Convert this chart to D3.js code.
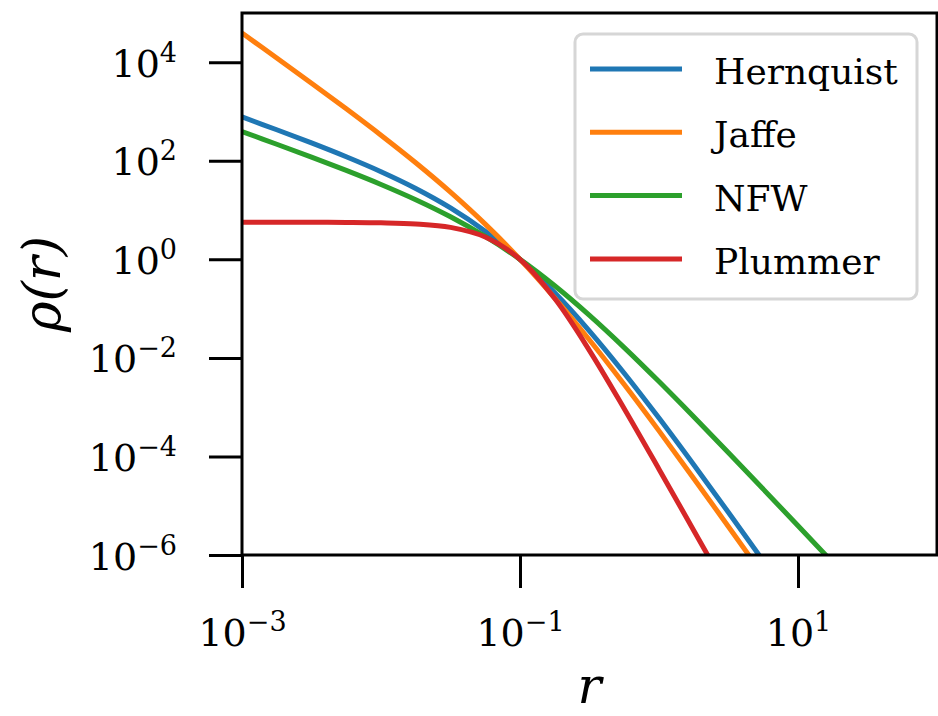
<!DOCTYPE html>
<html>
<head>
<meta charset="utf-8">
<script src="https://cdn.jsdelivr.net/npm/d3@7"></script>
<style>
  body { margin: 0; background: #fff; }
  svg { display: block; }
  svg text { font-family: "DejaVu Serif", "Liberation Serif", "Noto Serif", serif !important; }
</style>
</head>
<body>
<div id="chart"></div>
<script>
// radius samples (log spaced) and densities
const rValues = [1e-3, 1.778e-3, 3.162e-3, 5.623e-3, 1e-2, 1.778e-2, 3.162e-2, 5.623e-2,
  1e-1, 1.778e-1, 3.162e-1, 5.623e-1, 1, 1.778, 3.162, 5.623, 10, 17.78, 31.62];
const hernquist = [776.6, 426.7, 230.5, 120.7, 60.1, 27.5, 11.09, 3.73,
  1, 0.2098, 0.03509, 4.894e-3, 6.01e-4, 6.785e-5, 7.288e-6, 7.59e-7, 7.77e-8, 7.87e-9, 7.92e-10];
const jaffe = [3.922e4, 1.221e4, 3758, 1134, 330.6, 91.18, 23.09, 5.183,
  1, 0.1638, 0.02309, 2.884e-3, 3.306e-4, 3.585e-5, 3.758e-6, 3.86e-7, 3.92e-8, 3.96e-9, 3.97e-10];
const nfw = [392.2, 217.1, 118.9, 63.75, 33.06, 16.21, 7.30, 2.914,
  1, 0.2914, 0.0730, 0.01621, 3.306e-3, 6.375e-4, 1.189e-4, 2.171e-5, 3.922e-6, 7.035e-7, 1.257e-7];
const plummer = [5.655, 5.651, 5.642, 5.611, 5.517, 5.233, 4.458, 2.846,
  1, 0.1600, 0.01410, 9.307e-4, 5.517e-5, 3.157e-6, 1.784e-7, 1.005e-8, 5.65e-10, 3.2e-11, 1.8e-12];

const seriesNames = ["Hernquist", "Jaffe", "NFW", "Plummer"];
const seriesValues = [hernquist, jaffe, nfw, plummer];
const colors = ["#1f77b4", "#ff7f0e", "#2ca02c", "#d62728"];

const xTicks = [1e-3, 1e-1, 1e1];
const yTicks = [1e-6, 1e-4, 1e-2, 1e0, 1e2, 1e4];

const width = 938;
const height = 716;
const margin = { top: 13, right: 1, bottom: 161, left: 242 };

const svg = d3
  .select("#chart")
  .append("svg")
  .attr("width", width)
  .attr("height", height);

const x = d3
  .scaleLog()
  .domain([1e-3, 1e2])
  .range([margin.left, width - margin.right]);

const y = d3
  .scaleLog()
  .domain([1e-6, 1e5])
  .range([height - margin.bottom, margin.top]);

// clip curves to plot area
svg
  .append("clipPath")
  .attr("id", "plot_clip")
  .append("rect")
  .attr("x", margin.left)
  .attr("y", margin.top)
  .attr("width", width - margin.right - margin.left)
  .attr("height", height - margin.bottom - margin.top);

const line = d3
  .line()
  .x((d) => x(d[0]))
  .y((d) => y(d[1]))
  .curve(d3.curveCatmullRom.alpha(0.5));

const curves = svg.append("g").attr("clip-path", "url(#plot_clip)");

seriesValues.forEach((vals, i) => {
  curves
    .append("path")
    .datum(rValues.map((r, j) => [r, vals[j]]))
    .attr("d", line)
    .attr("fill", "none")
    .attr("stroke", colors[i])
    .attr("stroke-width", 5)
    .attr("stroke-linejoin", "round")
    .attr("stroke-linecap", "butt");
});

// label as 10^n with a raised exponent
function powerLabel(sel, v) {
  const e = Math.round(Math.log10(v));
  sel.text(null);
  sel.append("tspan").text("10");
  sel
    .append("tspan")
    .attr("dy", -15)
    .style("font-size", "27px")
    .text(e < 0 ? "\u2212" + Math.abs(e) : String(e));
}

// x axis
const xAxis = svg
  .append("g")
  .attr("transform", `translate(0, ${height - margin.bottom})`)
  .call(d3.axisBottom(x).tickValues(xTicks).tickSize(33).tickPadding(0).tickFormat(() => ""));

xAxis.select(".domain").remove();
xAxis.selectAll(".tick line").attr("stroke", "#000").attr("stroke-width", 3);
xAxis
  .selectAll(".tick text")
  .attr("y", 91)
  .attr("dy", null)
  .attr("fill", "#000")
  .attr("text-anchor", "middle")
  .style("font-size", "38px")
  .each(function (d) {
    powerLabel(d3.select(this), d);
  });

// y axis
const yAxis = svg
  .append("g")
  .attr("transform", `translate(${margin.left}, 0)`)
  .call(d3.axisLeft(y).tickValues(yTicks).tickSize(33).tickPadding(0).tickFormat(() => ""));

yAxis.select(".domain").remove();
yAxis.selectAll(".tick line").attr("stroke", "#000").attr("stroke-width", 3);
yAxis
  .selectAll(".tick text")
  .attr("x", -65)
  .attr("dy", null)
  .attr("y", 14)
  .attr("fill", "#000")
  .attr("text-anchor", "end")
  .style("font-size", "38px")
  .each(function (d) {
    powerLabel(d3.select(this), d);
  });

// frame
svg
  .append("rect")
  .attr("x", margin.left)
  .attr("y", margin.top)
  .attr("width", width - margin.right - margin.left)
  .attr("height", height - margin.bottom - margin.top)
  .attr("fill", "none")
  .attr("stroke", "#000")
  .attr("stroke-width", 3);

// axis labels
svg
  .append("text")
  .attr("x", (margin.left + width - margin.right) / 2)
  .attr("y", 703)
  .attr("text-anchor", "middle")
  .style("font-style", "italic")
  .style("font-size", "50px")
  .text("r");

svg
  .append("text")
  .attr("transform", `translate(60, ${(margin.top + height - margin.bottom) / 2}) rotate(-90)`)
  .attr("text-anchor", "middle")
  .style("font-style", "italic")
  .style("font-size", "52px")
  .text("\u03c1(r)");

// legend
const legend = svg.append("g");

legend
  .append("rect")
  .attr("x", 575)
  .attr("y", 34)
  .attr("width", 342)
  .attr("height", 265)
  .attr("rx", 8)
  .attr("fill", "#fff")
  .attr("fill-opacity", 0.8)
  .attr("stroke", "#d6d6d6")
  .attr("stroke-width", 3);

seriesNames.forEach((name, i) => {
  const ly = 69 + i * 63.3;
  legend
    .append("line")
    .attr("x1", 590)
    .attr("x2", 682)
    .attr("y1", ly)
    .attr("y2", ly)
    .attr("stroke", colors[i])
    .attr("stroke-width", 5);
  legend
    .append("text")
    .attr("x", 714)
    .attr("y", ly + 15)
    .attr("fill", "#000")
    .style("font-size", "36px")
    .text(name);
});
</script>
</body>
</html>
